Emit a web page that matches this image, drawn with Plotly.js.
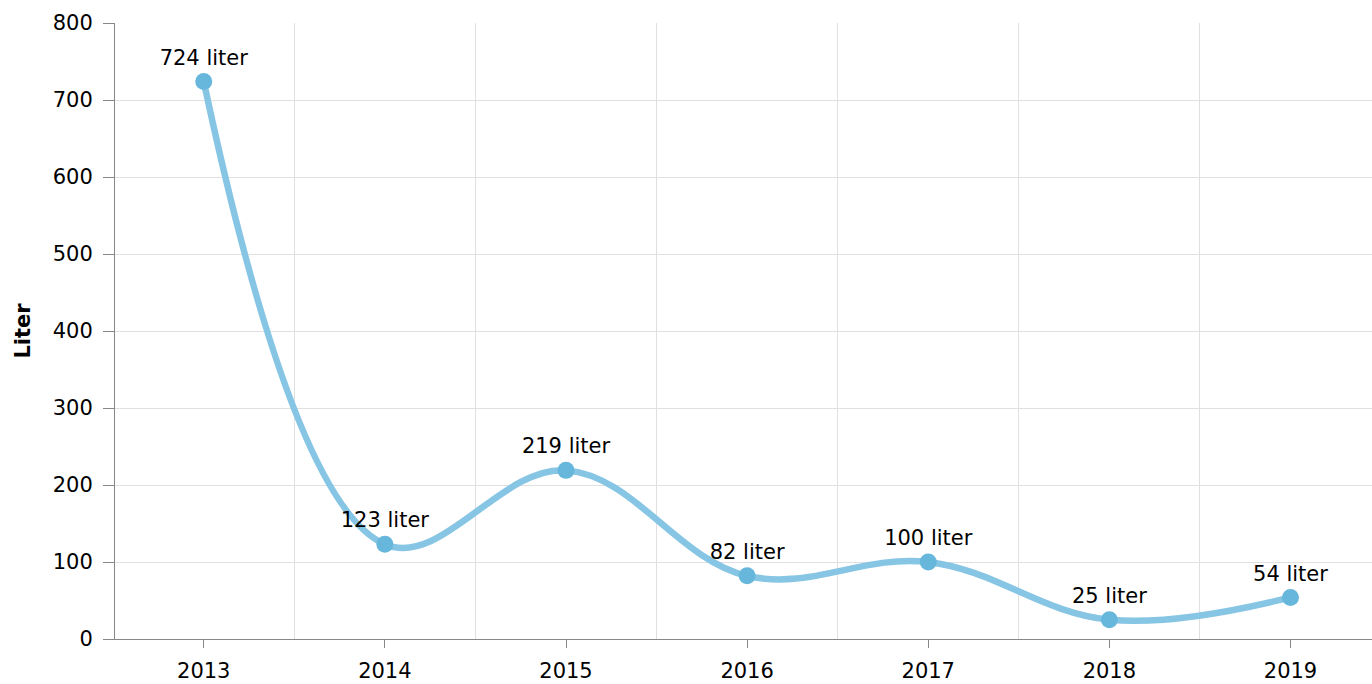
<!DOCTYPE html>
<html>
<head>
<meta charset="utf-8">
<script src="https://cdn.plot.ly/plotly-3.0.1.min.js"></script>
<style>html,body{margin:0;padding:0;background:#fff;}#chart{width:1372px;height:684px;}</style>
</head>
<body>
<div id="chart"></div>
<script>
var years = ['2013', '2014', '2015', '2016', '2017', '2018', '2019'];
var liters = [724, 123, 219, 82, 100, 25, 54];
var yTicks = [0, 100, 200, 300, 400, 500, 600, 700, 800];
var unit = 'liter';

var font = {family: 'Verdana, "DejaVu Sans", sans-serif', size: 21, color: '#000'};

var traces = [
  {
    x: years, y: liters, type: 'scatter', mode: 'lines+markers+text',
    line: {shape: 'spline', smoothing: 1.1, color: '#87c5e4', width: 6.5},
    marker: {color: '#67b7dc', size: 17},
    text: liters.map(function(v){ return v + ' ' + unit; }),
    textposition: 'top center',
    textfont: font,
    cliponaxis: false,
    hoverinfo: 'x+y'
  },
  {
    x: years, y: liters, type: 'scatter', mode: 'markers', xaxis: 'x2',
    marker: {opacity: 0}, hoverinfo: 'skip', showlegend: false
  }
];

var layout = {
  width: 1372, height: 684,
  margin: {l: 115, r: 0, t: 23, b: 45},
  paper_bgcolor: '#fff', plot_bgcolor: '#fff',
  showlegend: false,
  font: font,
  xaxis: {
    type: 'category', range: [-0.49, 6.45],
    showgrid: false, zeroline: false,
    showline: true, linecolor: '#888', linewidth: 1,
    ticks: 'outside', ticklen: 8, tickcolor: '#888',
    ticklabelstandoff: 5,
    tickfont: font
  },
  xaxis2: {
    type: 'category', overlaying: 'x', matches: 'x', side: 'bottom',
    tickson: 'boundaries', showgrid: true, gridcolor: '#e0e0e0', gridwidth: 1,
    showticklabels: false, ticks: '', showline: false, zeroline: false
  },
  yaxis: {
    range: [0, 800], tickvals: yTicks, showgrid: true, gridcolor: '#e0e0e0',
    zeroline: false, showline: true, linecolor: '#888', linewidth: 1,
    ticks: 'outside', ticklen: 11, tickcolor: '#888', tickfont: font,
    ticklabelstandoff: 6,
    title: {text: '<b>Liter</b>', font: {family: font.family, size: 21, color: '#000'}, standoff: 16}
  }
};

Plotly.newPlot('chart', traces, layout, {displayModeBar: false, staticPlot: true});
</script>
</body>
</html>
